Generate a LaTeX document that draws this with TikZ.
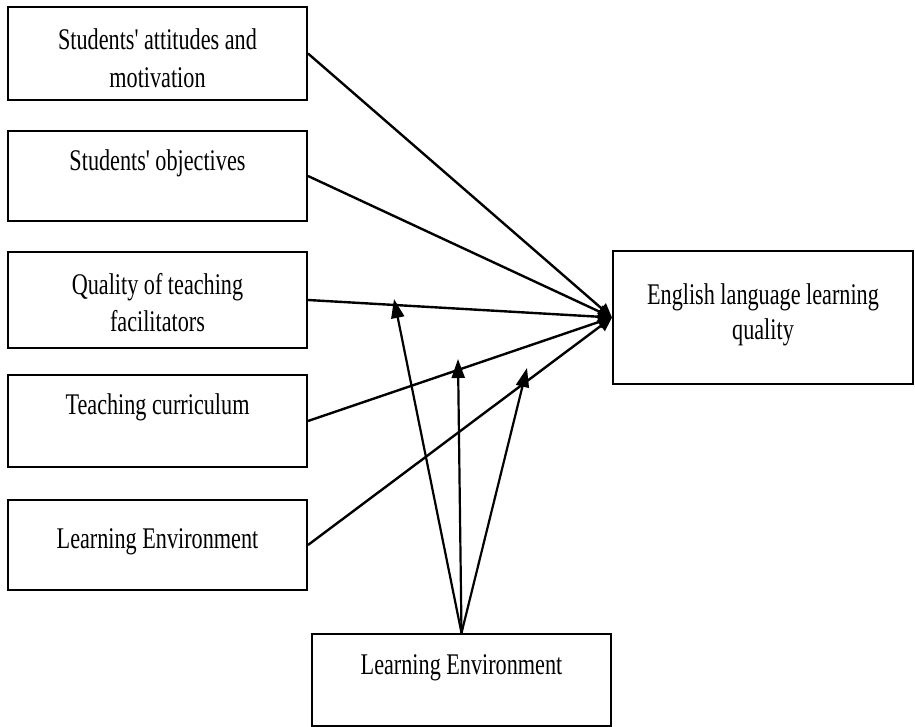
\documentclass[tikz,border=0pt]{standalone}
\usepackage{fontspec}
\setmainfont[FakeStretch=0.74,Ligatures=TeXOff]{Liberation Serif}
\usetikzlibrary{arrows.meta}
\begin{document}
\begin{tikzpicture}[x=1pt,y=-1pt,
  box/.style={draw=black,line width=2pt,rectangle,inner sep=0pt},
  lbl/.style={inner sep=0pt,font=\fontsize{30}{34}\selectfont,align=center},
  conn/.style={line width=2.4pt,-{Triangle[length=14pt,width=13pt]}},
  modarrow/.style={line width=2.2pt,-{Triangle[length=19pt,width=13pt]}}]
\useasboundingbox (0,0) rectangle (915,727);
% left boxes
\node[box,minimum width=299pt,minimum height=93pt] (b1) at (157.5,53.5) {};
\node[box,minimum width=299pt,minimum height=90pt] (b2) at (157.5,176) {};
\node[box,minimum width=299pt,minimum height=96pt] (b3) at (157.5,300) {};
\node[box,minimum width=299pt,minimum height=92pt] (b4) at (157.5,421) {};
\node[box,minimum width=299pt,minimum height=90pt] (b5) at (157.5,545) {};
\node[box,minimum width=300pt,minimum height=133pt] (out) at (763,317.5) {};
\node[box,minimum width=299pt,minimum height=92pt] (mod) at (461.5,680) {};
% texts
\node[lbl] (t1a) at (157.5,39) {Students' attitudes and};
\node[lbl] (t1b) at (157.5,78) {motivation};
\node[lbl] (t2) at (157.5,163) {Students' objectives};
\node[lbl] (t3a) at (157.5,287) {Quality of teaching};
\node[lbl] (t3b) at (157.5,321) {facilitators};
\node[lbl] (t4) at (157.5,407) {Teaching curriculum};
\node[lbl] (t5) at (157.5,542) {Learning Environment};
\node[lbl] (to1) at (763,297) {English language learning};
\node[lbl] (to2) at (763,332) {quality};
\node[lbl] (tm) at (461.5,668) {Learning Environment};
% main connectors
\draw[conn] (b1.east) -- (out.west);
\draw[conn] (b2.east) -- (out.west);
\draw[conn] (b3.east) -- (out.west);
\draw[conn] (b4.east) -- (out.west);
\draw[conn] (b5.east) -- (out.west);
% moderator arrows
\coordinate (m1) at (394,299);
\coordinate (m2) at (458,359);
\coordinate (m3) at (527,368);
\draw[modarrow] (mod.north) -- (m1);
\draw[modarrow] (mod.north) -- (m2);
\draw[modarrow] (mod.north) -- (m3);
\end{tikzpicture}
\end{document}
